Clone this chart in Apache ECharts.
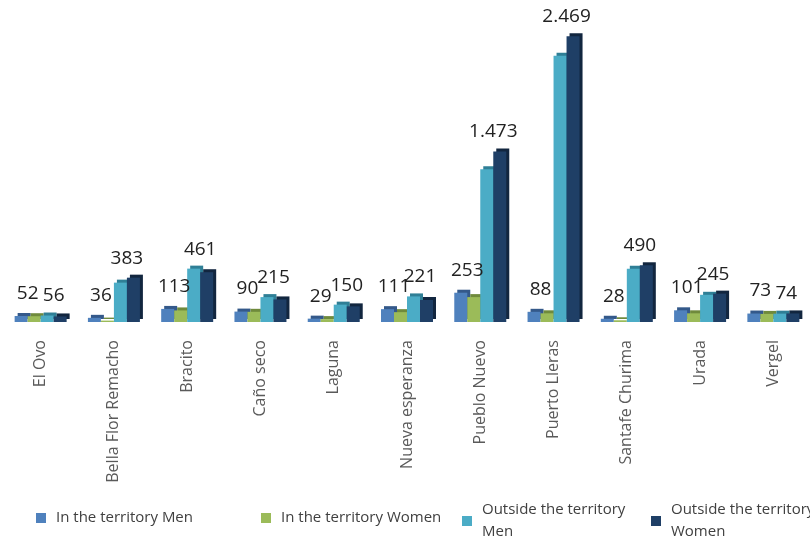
<!DOCTYPE html>
<html><head><meta charset="utf-8">
<script src="https://cdn.jsdelivr.net/npm/echarts@6/dist/echarts.min.js"></script>
<style>html,body{margin:0;padding:0;background:#fff}#c{width:810px;height:537px}</style>
</head><body><div id="c"></div>
<script>
const categories = ['El Ovo','Bella Flor Remacho','Bracito','Caño seco','Laguna','Nueva esperanza','Pueblo Nuevo','Puerto Lleras','Santafe Churima','Urada','Vergel'];
const inMen      = [52, 36, 113, 90, 29, 111, 253, 88, 28, 101, 73];
const inWomen    = [50, 12, 100, 88, 25, 85, 215, 75, 15, 75, 70];
const outMen     = [56, 340, 461, 215, 150, 221, 1320, 2300, 460, 235, 72];
const outWomen   = [48, 383, 430, 195, 135, 190, 1473, 2469, 490, 245, 74];
const inLabels   = ['52','36','113','90','29','111','253','88','28','101','73'];
const outLabels  = ['56','383','461','215','150','221','1.473','2.469','490','245','74'];
const seriesNames = ['In the territory Men','In the territory Women','Outside the territory\nMen','Outside the territory\nWomen'];
const colors = ['#4f81bd','#9bbb59','#4bacc6','#1f3f66'];
const sideColors = ['#34598a','#6f8a3c','#2f7f96','#12263f'];

const BW = 13;
function build(vals, other, labels, isLeft, dist) {
  return vals.map((v, i) => {
    const show = isLeft ? v >= other[i] : v > other[i];
    return {
      value: v,
      label: {
        show: show,
        position: 'top',
        distance: dist,
        offset: [isLeft ? BW / 2 : -BW / 2, 0],
        formatter: labels[i],
        fontSize: 19,
        color: '#222222',
        fontFamily: 'Open Sans'
      }
    };
  });
}
const dataSets = [
  build(inMen, inWomen, inLabels, true, 13),
  build(inWomen, inMen, inLabels, false, 13),
  build(outMen, outWomen, outLabels, true, 10),
  build(outWomen, outMen, outLabels, false, 10)
];

const chart = echarts.init(document.getElementById('c'), null, {renderer: 'canvas'});
const legendLefts = [36, 261, 462, 651];
chart.setOption({
  animation: false,
  grid: {left: 4, width: 811, top: 21, bottom: 215, containLabel: false},
  xAxis: {
    type: 'category',
    data: categories,
    axisLine: {show: false},
    axisTick: {show: false},
    axisLabel: {rotate: 90, margin: 18, fontSize: 16, color: '#5a5a5a', fontFamily: 'Open Sans', interval: 0}
  },
  yAxis: {type: 'value', min: 0, max: 2600, show: false, splitLine: {show: false}},
  legend: seriesNames.map((n, i) => ({
    data: [n],
    left: legendLefts[i],
    top: i < 2 ? 507 : 499,
    padding: 0,
    itemWidth: 10,
    itemHeight: 10,
    icon: 'rect',
    textStyle: {fontSize: 15, color: '#404040', fontFamily: 'Open Sans', lineHeight: 22, padding: [0, 0, 0, 5]}
  })),
  series: seriesNames.map((n, i) => ({
    name: n,
    type: 'bar',
    barWidth: BW,
    barGap: '0%',
    data: dataSets[i],
    itemStyle: {
      color: colors[i],
      shadowColor: sideColors[i],
      shadowOffsetX: 3,
      shadowOffsetY: -3,
      shadowBlur: 0
    }
  }))
});
</script></body></html>
